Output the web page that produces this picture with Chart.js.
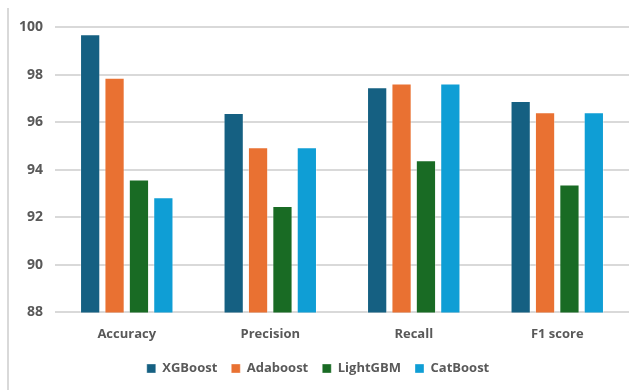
<!DOCTYPE html>
<html>
<head>
<meta charset="utf-8">
<script src="https://cdn.jsdelivr.net/npm/chart.js@4/dist/chart.umd.min.js"></script>
<style>
  html, body { margin: 0; padding: 0; background: #ffffff; }
  #wrap { position: relative; width: 643px; height: 390px; }
  #frame { position: absolute; left: 7px; top: 8px; width: 2px; height: 382px; background: #d9d9d9; }
</style>
</head>
<body>
<div id="wrap">
  <div id="frame"></div>
  <canvas id="modelChart" width="643" height="390"></canvas>
</div>
<script>
// chart data
const metrics = ['Accuracy', 'Precision', 'Recall', 'F1 score'];
const xgboost = [99.7, 96.38, 97.47, 96.89];
const adaboost = [97.87, 94.94, 97.62, 96.42];
const lightgbm = [93.59, 92.47, 94.4, 93.38];
const catboost = [92.84, 94.94, 97.62, 96.42];
const yTicks = [88, 90, 92, 94, 96, 98, 100];

document.addEventListener('DOMContentLoaded', function() {
    const ctx = document.getElementById('modelChart').getContext('2d');
    const textColor = '#595959';
    const fontFamily = '"Open Sans", "Noto Sans", sans-serif';

    function series(label, data, color) {
        return {
            label: label,
            data: data,
            backgroundColor: color,
            borderColor: 'rgba(255, 255, 255, 0.35)',
            borderWidth: 1,
            borderSkipped: false
        };
    }

    new Chart(ctx, {
        type: 'bar',
        data: {
            labels: metrics,
            datasets: [
                series('XGBoost', xgboost, '#156082'),
                series('Adaboost', adaboost, '#E97132'),
                series('LightGBM', lightgbm, '#196B24'),
                series('CatBoost', catboost, '#0F9ED5')
            ]
        },
        options: {
            responsive: false,
            animation: false,
            layout: {
                padding: { left: 7, right: 14, top: 27, bottom: 5 }
            },
            datasets: {
                bar: {
                    categoryPercentage: 0.68,
                    barPercentage: 0.83
                }
            },
            plugins: {
                legend: {
                    position: 'bottom',
                    labels: {
                        boxWidth: 9,
                        boxHeight: 9,
                        padding: 14,
                        color: textColor,
                        font: { family: fontFamily, size: 13, weight: 'bold' }
                    }
                },
                tooltip: { enabled: false }
            },
            scales: {
                y: {
                    min: 88,
                    max: 100,
                    afterBuildTicks: function(axis) {
                        axis.ticks = yTicks.map(v => ({ value: v }));
                    },
                    border: { display: false },
                    grid: { color: '#d9d9d9', lineWidth: 2, drawTicks: false },
                    ticks: {
                        padding: 12,
                        color: textColor,
                        font: { family: fontFamily, size: 14, weight: 'bold' }
                    }
                },
                x: {
                    border: { display: false },
                    grid: { display: false },
                    ticks: {
                        padding: 6,
                        color: textColor,
                        font: { family: fontFamily, size: 13, weight: 'bold' }
                    }
                }
            }
        }
    });
});
</script>
</body>
</html>
